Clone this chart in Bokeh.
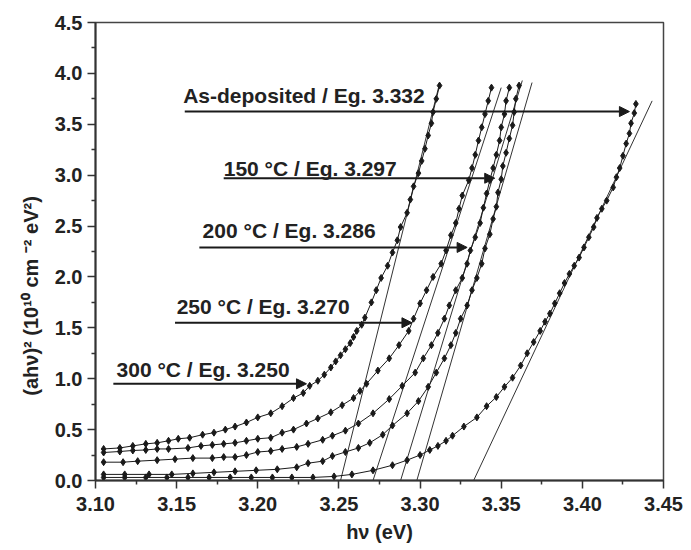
from bokeh.plotting import figure
from bokeh.models import Arrow, NormalHead, Label, Range1d, FixedTicker, NumeralTickFormatter
from bokeh.embed import file_html
from bokeh.resources import INLINE

# ---------------- data ----------------
x_300 = [3.105, 3.115, 3.123, 3.131, 3.138, 3.145, 3.151, 3.158, 3.166, 3.173, 3.180, 3.186,
         3.193, 3.200, 3.208, 3.215, 3.222, 3.228, 3.232, 3.237, 3.241, 3.245, 3.248, 3.251,
         3.254, 3.257, 3.259, 3.261, 3.264, 3.266, 3.270, 3.273, 3.276, 3.280, 3.283, 3.286,
         3.288, 3.292, 3.294, 3.296, 3.299, 3.301, 3.303, 3.305, 3.307, 3.308, 3.310, 3.312]
y_300 = [0.31, 0.32, 0.34, 0.36, 0.37, 0.39, 0.41, 0.42, 0.45, 0.47, 0.50, 0.53,
         0.57, 0.62, 0.66, 0.73, 0.81, 0.86, 0.93, 0.98, 1.04, 1.11, 1.17, 1.23,
         1.29, 1.35, 1.41, 1.47, 1.53, 1.60, 1.75, 1.87, 1.99, 2.11, 2.24, 2.36,
         2.49, 2.63, 2.76, 2.89, 3.02, 3.14, 3.26, 3.39, 3.51, 3.62, 3.75, 3.88]

x_250 = [3.105, 3.115, 3.123, 3.131, 3.138, 3.145, 3.157, 3.165, 3.172, 3.179, 3.186, 3.193,
         3.200, 3.208, 3.215, 3.222, 3.230, 3.237, 3.245, 3.252, 3.259, 3.263, 3.267, 3.274,
         3.281, 3.287, 3.293, 3.296, 3.300, 3.304, 3.308, 3.313, 3.316, 3.319, 3.322, 3.324,
         3.326, 3.330, 3.332, 3.334, 3.336, 3.338, 3.340, 3.342, 3.344]
y_250 = [0.275, 0.285, 0.295, 0.30, 0.31, 0.31, 0.32, 0.34, 0.35, 0.36, 0.37, 0.39,
         0.41, 0.42, 0.47, 0.50, 0.56, 0.61, 0.67, 0.74, 0.81, 0.88, 0.95, 1.08,
         1.20, 1.33, 1.47, 1.59, 1.74, 1.87, 2.00, 2.13, 2.26, 2.41, 2.53, 2.67,
         2.80, 2.95, 3.07, 3.20, 3.34, 3.47, 3.60, 3.73, 3.86]

x_200 = [3.105, 3.117, 3.126, 3.138, 3.149, 3.160, 3.172, 3.179, 3.186, 3.193, 3.200, 3.208,
         3.215, 3.224, 3.231, 3.240, 3.246, 3.254, 3.262, 3.271, 3.281, 3.289, 3.297, 3.302,
         3.307, 3.311, 3.315, 3.318, 3.322, 3.326, 3.329, 3.331, 3.334, 3.337, 3.339, 3.341,
         3.343, 3.345, 3.347, 3.349, 3.350, 3.352, 3.353, 3.355]
y_200 = [0.18, 0.18, 0.19, 0.20, 0.21, 0.22, 0.22, 0.23, 0.23, 0.25, 0.28, 0.29,
         0.31, 0.33, 0.36, 0.40, 0.44, 0.49, 0.56, 0.66, 0.80, 0.93, 1.06, 1.20,
         1.33, 1.45, 1.59, 1.72, 1.87, 1.99, 2.13, 2.26, 2.39, 2.53, 2.68, 2.82,
         2.95, 3.07, 3.20, 3.34, 3.47, 3.60, 3.73, 3.86]

x_150 = [3.105, 3.118, 3.133, 3.147, 3.160, 3.173, 3.186, 3.199, 3.212, 3.224, 3.231, 3.240,
         3.246, 3.254, 3.262, 3.269, 3.277, 3.283, 3.292, 3.299, 3.305, 3.310, 3.315, 3.319,
         3.322, 3.325, 3.329, 3.332, 3.335, 3.338, 3.340, 3.343, 3.345, 3.347, 3.348, 3.350,
         3.351, 3.353, 3.355, 3.357, 3.358, 3.359, 3.361]
y_150 = [0.06, 0.06, 0.06, 0.06, 0.07, 0.08, 0.09, 0.10, 0.11, 0.13, 0.17, 0.19,
         0.24, 0.28, 0.32, 0.37, 0.45, 0.54, 0.66, 0.78, 0.92, 1.06, 1.20, 1.33,
         1.45, 1.59, 1.72, 1.87, 1.99, 2.13, 2.28, 2.42, 2.57, 2.69, 2.83, 2.96,
         3.09, 3.22, 3.36, 3.49, 3.62, 3.75, 3.88]

x_asdep = [3.105, 3.118, 3.131, 3.144, 3.157, 3.170, 3.183, 3.196, 3.209, 3.221, 3.234, 3.247,
           3.258, 3.271, 3.283, 3.292, 3.300, 3.306, 3.311, 3.316, 3.320, 3.327, 3.335, 3.341,
           3.347, 3.352, 3.357, 3.362, 3.366, 3.370, 3.374, 3.377, 3.380, 3.383, 3.386, 3.389,
           3.392, 3.395, 3.398, 3.401, 3.404, 3.407, 3.409, 3.412, 3.415, 3.419, 3.421, 3.423,
           3.425, 3.427, 3.429, 3.430, 3.432, 3.433]
y_asdep = [0.03, 0.03, 0.03, 0.03, 0.03, 0.03, 0.03, 0.03, 0.03, 0.03, 0.03, 0.04,
           0.06, 0.10, 0.15, 0.20, 0.25, 0.30, 0.34, 0.39, 0.44, 0.53, 0.62, 0.73,
           0.82, 0.92, 1.01, 1.13, 1.25, 1.36, 1.47, 1.56, 1.64, 1.74, 1.84, 1.94,
           2.03, 2.11, 2.19, 2.29, 2.39, 2.49, 2.58, 2.67, 2.75, 2.88, 2.98, 3.07,
           3.19, 3.31, 3.41, 3.51, 3.61, 3.70]

# linear fits (tangent lines): start on the x axis, end at top
fit_x0 = [3.251, 3.271, 3.288, 3.298, 3.333]
fit_y0 = [0.0, 0.0, 0.0, 0.0, 0.0]
fit_x1 = [3.312, 3.350, 3.363, 3.369, 3.443]
fit_y1 = [3.90, 3.86, 3.93, 3.91, 3.73]

# annotation texts
labels = ["As-deposited / Eg. 3.332", "150 \u00b0C / Eg. 3.297", "200 \u00b0C / Eg. 3.286",
          "250 \u00b0C / Eg. 3.270", "300 \u00b0C / Eg. 3.250"]
label_x = [3.154, 3.179, 3.166, 3.150, 3.113]
label_y = [3.78, 3.07, 2.46, 1.71, 1.09]
arrow_x0 = [3.155, 3.179, 3.164, 3.149, 3.111]
arrow_x1 = [3.429, 3.346, 3.329, 3.295, 3.230]
arrow_y = [3.625, 2.97, 2.29, 1.55, 0.95]

x_ticks = [3.10, 3.15, 3.20, 3.25, 3.30, 3.35, 3.40, 3.45]
x_minor = [3.125, 3.175, 3.225, 3.275, 3.325, 3.375, 3.425]
y_ticks = [0.0, 0.5, 1.0, 1.5, 2.0, 2.5, 3.0, 3.5, 4.0, 4.5]
y_minor = [0.25, 0.75, 1.25, 1.75, 2.25, 2.75, 3.25, 3.75, 4.25]

x_title = "h\u03bd (eV)"
y_title = "(ah\u03bd)\u00b2 (10\u00b9\u2070 cm \u207b\u00b2 eV\u00b2)"

FONT = "Liberation Sans"
INK = "#1a1a1a"

p = figure(width=683, height=550, x_range=Range1d(3.10, 3.45), y_range=Range1d(0, 4.5),
           output_backend="svg", toolbar_location=None,
           min_border_left=95, min_border_right=20, min_border_top=22, min_border_bottom=70)
p.xgrid.visible = False
p.ygrid.visible = False
p.outline_line_color = "#444444"
p.outline_line_width = 1.5
p.background_fill_color = "white"
p.border_fill_color = "white"

for ax, ticks, minor, fmt in ((p.xaxis[0], x_ticks, x_minor, "0.00"), (p.yaxis[0], y_ticks, y_minor, "0.0")):
    ax.ticker = FixedTicker(ticks=ticks, minor_ticks=minor)
    ax.formatter = NumeralTickFormatter(format=fmt)
    ax.axis_line_color = "#333333"
    ax.axis_line_width = 2
    ax.major_tick_line_color = "#333333"
    ax.major_tick_line_width = 1.5
    ax.minor_tick_line_color = "#333333"
    ax.minor_tick_line_width = 1.5
    ax.major_tick_out = 8
    ax.major_tick_in = 0
    ax.minor_tick_out = 4
    ax.minor_tick_in = 0
    ax.major_label_text_font = FONT
    ax.major_label_text_font_style = "bold"
    ax.major_label_text_font_size = "20px"
    ax.major_label_text_color = "#222222"
    ax.axis_label_text_font = FONT
    ax.axis_label_text_font_style = "bold"
    ax.axis_label_text_font_size = "20px"
    ax.axis_label_text_color = "#222222"
p.xaxis.major_label_standoff = 8
p.yaxis.major_label_standoff = 5
p.xaxis.axis_label = x_title
p.xaxis.axis_label_standoff = 7
# trailing no-break spaces shift the rotated title down, as in the reference
p.yaxis.axis_label = y_title + "\u00a0" * 16
p.yaxis.axis_label_standoff = 10

# tangent lines
for xa, ya, xb, yb in zip(fit_x0, fit_y0, fit_x1, fit_y1):
    p.line([xa, xb], [ya, yb], line_color="#333333", line_width=1)

# data curves
for xs, ys in ((x_300, y_300), (x_250, y_250), (x_200, y_200), (x_150, y_150), (x_asdep, y_asdep)):
    p.line(xs, ys, line_color=INK, line_width=1)
    p.scatter(xs, ys, marker="diamond", size=7, fill_color=INK, line_color=INK)

# arrows and texts
for t, lx, ly, xa, xb, ay in zip(labels, label_x, label_y, arrow_x0, arrow_x1, arrow_y):
    p.add_layout(Arrow(end=NormalHead(size=10, fill_color=INK, line_color=INK, line_width=1),
                       x_start=xa, y_start=ay, x_end=xb, y_end=ay,
                       line_color=INK, line_width=2))
    p.add_layout(Label(x=lx, y=ly, text=t, text_font=FONT, text_font_style="bold",
                       text_font_size="21px", text_color="#222222",
                       text_align="left", text_baseline="middle"))

open("out.html", "w").write(file_html(p, INLINE))
